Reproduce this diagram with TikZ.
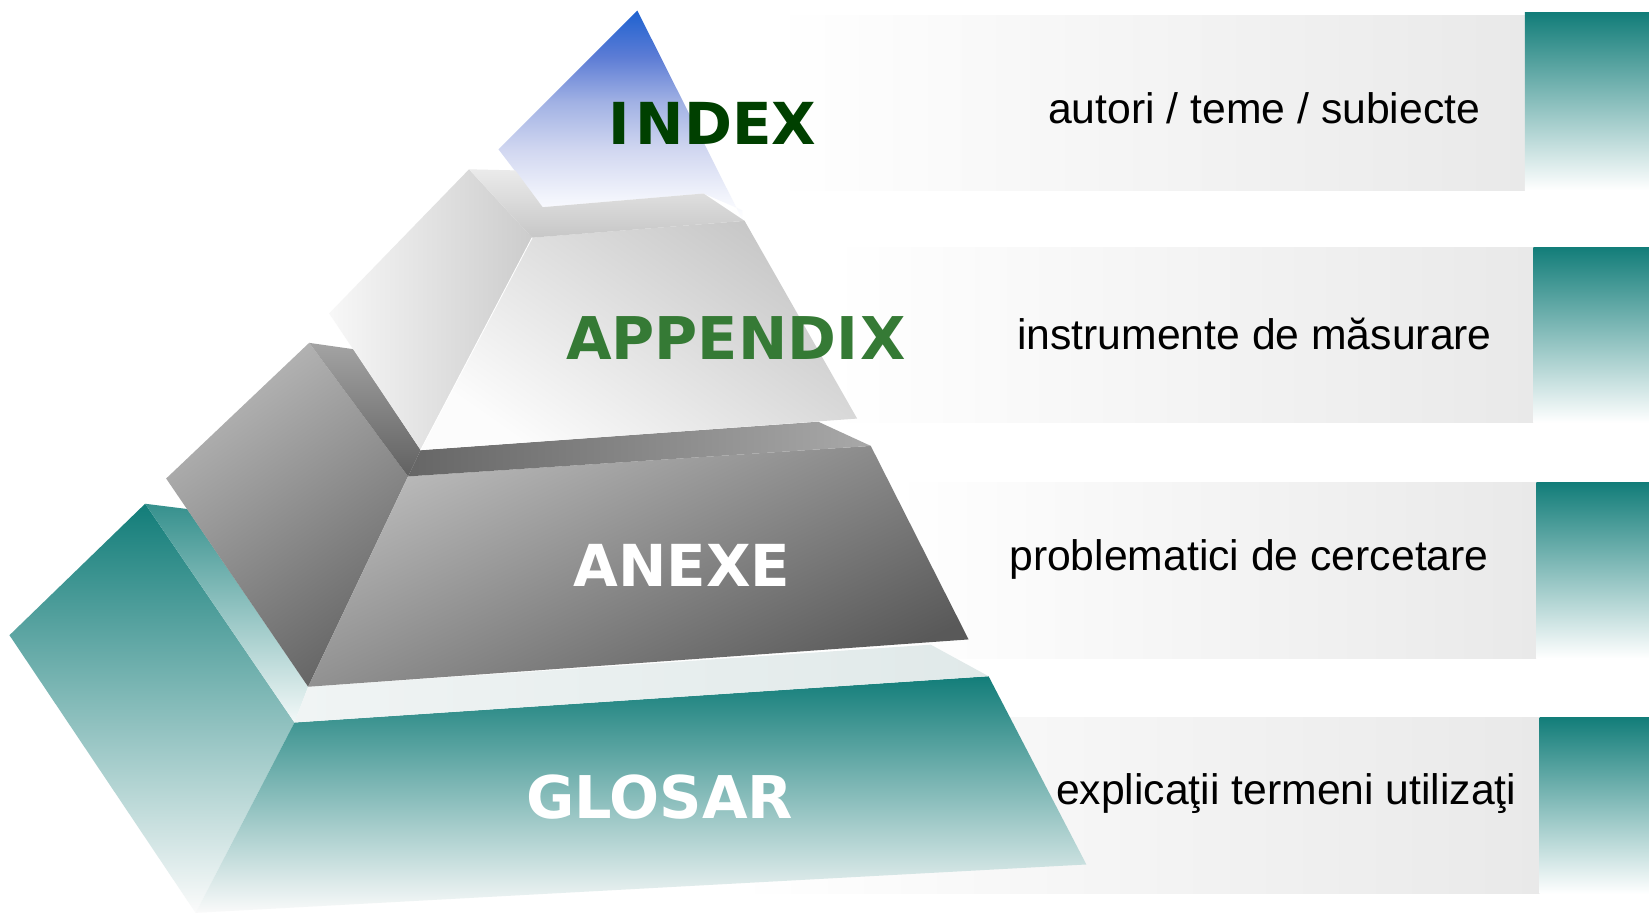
\documentclass[tikz,border=0pt]{standalone}
\usepackage{fontspec}
\newfontfamily\labfont{DejaVu Sans}
\newfontfamily\txtfont{Liberation Sans}
\definecolor{teal0}{RGB}{18,125,121}
\definecolor{tealmid}{RGB}{160,196,194}
\definecolor{panelgray}{RGB}{233,233,233}
\definecolor{idxgreen}{RGB}{0,64,0}
\definecolor{appgreen}{RGB}{53,122,53}
\pgfdeclareverticalshading{idxshade}{100bp}{%
  color(0bp)=(white); color(25bp)=(white);
  color(30bp)=(rgb,255:red,243;green,245;blue,252);
  color(42bp)=(rgb,255:red,208;green,214;blue,240);
  color(53bp)=(rgb,255:red,162;green,178;blue,228);
  color(64bp)=(rgb,255:red,92;green,124;blue,213);
  color(75bp)=(rgb,255:red,30;green,98;blue,208);
  color(100bp)=(rgb,255:red,30;green,98;blue,208)}
\tikzset{
  lab/.style={inner sep=0pt, anchor=base west, font=\labfont\bfseries\fontsize{55}{60}\selectfont},
  desc/.style={inner sep=0pt, anchor=base west, font=\txtfont\fontsize{40.6}{46}\selectfont, text=black},
  panel/.style={left color=white, right color=panelgray},
  tealbox/.style={top color=teal0, middle color=tealmid, bottom color=white},
}
\begin{document}
\begin{tikzpicture}[x=1pt,y=-1pt]
\useasboundingbox (0,0) rectangle (1568,871);
\fill[white] (0,0) rectangle (1568,871);

% panels
\shade[panel] (735,15) rectangle (1452,181);
\shade[panel] (790,235) rectangle (1458,402);
\shade[panel] (850,459) rectangle (1461,626);
\shade[panel] (700,682) rectangle (1464,850);
% teal boxes
\shade[tealbox] (1450,12) rectangle (1568,181);
\shade[tealbox] (1458,235) rectangle (1568,402);
\shade[tealbox] (1461,459) rectangle (1568,626);
\shade[tealbox] (1464,682) rectangle (1568,850);

% GLOSAR tier
\shade[top color=teal0, middle color=tealmid, bottom color=white!97!gray]
  (138,479) -- (280,687) -- (186,868) -- (9,604) -- cycle;
\shade[top color=teal0, middle color=tealmid, bottom color=white!96!gray]
  (280,687) -- (940,643) -- (1033,822) -- (186,868) -- cycle;
\shade[top color=teal0!85, middle color=teal0!20!white, bottom color=white!95!teal0]
  (138,479) -- (178,484) -- (293,653) -- (280,687) -- cycle;
\shade[left color={rgb,255:red,240;green,244;blue,244}, right color={rgb,255:red,224;green,233;blue,233}]
  (293,653) -- (885,613) -- (940,643) -- (280,687) -- cycle;

% ANEXE tier
\shade[top color=black!28, bottom color=black!60, shading angle=35]
  (294,326) -- (388,453) -- (293,653) -- (158,455) -- cycle;
\shade[top color=black!27, bottom color=black!65, shading angle=25]
  (388,453) -- (828,424) -- (921,608) -- (293,653) -- cycle;
\shade[top color=black!36, bottom color=black!62]
  (294,326) -- (336,332) -- (400,428) -- (388,453) -- cycle;
\shade[left color=black!60, right color=black!34]
  (400,428) -- (778,401) -- (828,424) -- (388,453) -- cycle;

% INDEX tip
\shade[shading=idxshade]
  (606,10) -- (474,142) -- (516,197) -- (669,184) -- (706,200) -- (706,209) -- cycle;

% APPENDIX tier
\shade[left color=black!3, right color=black!20]
  (446,161) -- (506,226) -- (400,428) -- (313,298) -- cycle;
\shade[top color=black!22, bottom color=black!1, shading angle=-35]
  (506,226) -- (708,210) -- (815,398) -- (400,428) -- cycle;
\shade[top color=black!8, bottom color=black!22]
  (446,161) -- (490,162) -- (516,197) -- (669,184) -- (708,210) -- (506,226) -- cycle;
\draw[white, line width=0.8pt] (506,226) -- (400,428);

% labels
\node[lab, text=idxgreen] (index) at (578,137) {I\kern6ptNDEX};
\node[lab, text=appgreen, font=\labfont\bfseries\fontsize{56}{60}\selectfont] (appendix) at (538,342) {APPENDI\kern2ptX};
\node[lab, text=white] (anexe) at (545,558) {ANEXE};
\node[lab, text=white, font=\labfont\bfseries\fontsize{56}{60}\selectfont] (glosar) at (500,778) {GLOSAR};

% descriptions
\node[desc] (d1) at (996.5,117.5) {autori / teme / subiecte};
\node[desc] (d2) at (967,332.5) {instrumente de măsurare};
\node[desc] (d3) at (959.5,542.5) {problematici de cercetare};
\node[desc] (d4) at (1004,765) {explicaţii termeni utilizaţi};
\end{tikzpicture}
\end{document}
